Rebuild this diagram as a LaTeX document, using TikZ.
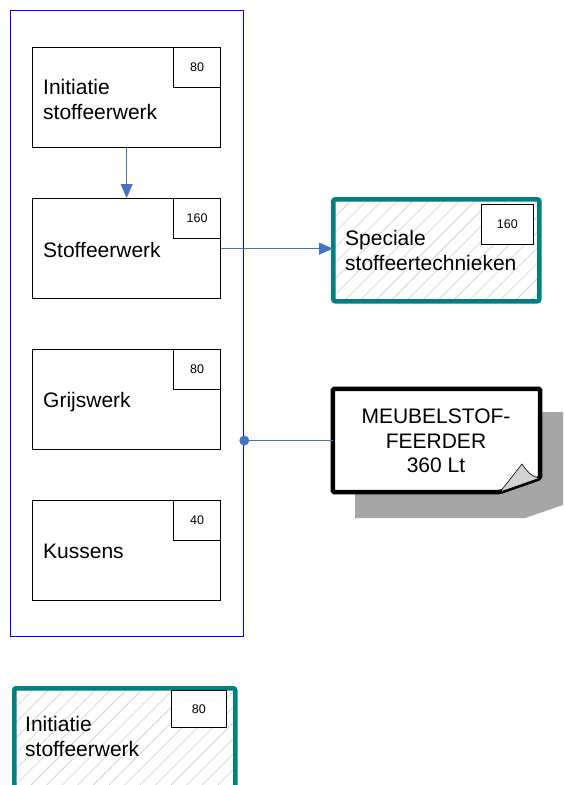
\documentclass[tikz,border=0pt]{standalone}
\usepackage{fontspec}
\setmainfont{Liberation Sans}
\usetikzlibrary{arrows.meta,patterns.meta}

\definecolor{frameblue}{RGB}{0,0,255}
\definecolor{linkblue}{RGB}{68,114,196}
\definecolor{tealedge}{RGB}{0,128,128}
\definecolor{shadowgray}{RGB}{166,166,166}

\tikzset{
  taskbox/.style={draw=black, line width=1.3pt, minimum width=188pt, minimum height=100pt, anchor=north west, inner sep=0pt},
  hoursbox/.style={draw=black, fill=white, line width=1.3pt, minimum width=47pt, minimum height=40pt, anchor=north east, inner sep=0pt, font=\fontsize{12.5}{14}\selectfont},
  tasktext/.style={anchor=west, align=left, inner sep=0pt, font=\fontsize{21}{25}\selectfont},
  extbox/.style={draw=tealedge, line width=4.5pt, rounded corners=2pt, pattern={Lines[angle=45,distance=11pt,line width=0.6pt]}, pattern color=gray!40, anchor=north west, inner sep=0pt},
  link/.style={draw=linkblue, line width=0.8pt}
}

\begin{document}
\begin{tikzpicture}[x=1pt, y=-1pt]
  \useasboundingbox (0,0) rectangle (563,785);

  % Draw the module frame
  \node (module) [draw=frameblue, line width=1.3pt, minimum width=233pt, minimum height=626pt, anchor=north west, inner sep=0pt] at (10,10) {};

  % Draw the four tasks inside the frame
  \node (initiatie) [taskbox] at (32,47) {};
  \node (initiatieuren) [hoursbox] at (initiatie.north east) {80};
  \node (initiatietxt) [tasktext] at (43,99) {Initiatie\\stoffeerwerk};

  \node (stoffeer) [taskbox] at (32,198) {};
  \node (stoffeeruren) [hoursbox] at (stoffeer.north east) {160};
  \node (stoffeertxt) [tasktext] at (43,250) {Stoffeerwerk};

  \node (grijs) [taskbox] at (32,349) {};
  \node (grijsuren) [hoursbox] at (grijs.north east) {80};
  \node (grijstxt) [tasktext] at (43,402) {Grijswerk};

  \node (kussens) [taskbox] at (32,500) {};
  \node (kussensuren) [hoursbox] at (kussens.north east) {40};
  \node (kussenstxt) [tasktext] at (43,551) {Kussens};

  % Draw the hatched outside tasks
  \node (speciaal) [extbox, minimum width=206pt, minimum height=102pt] at (333,199) {};
  \node (speciaaluren) [hoursbox, minimum width=52pt] at (534,204) {160};
  \node (speciaaltxt) [tasktext] at (345,250) {Speciale\\stoffeertechnieken};

  \node (legenda) [extbox, minimum width=221pt, minimum height=110pt] at (12,686) {};
  \node (legendauren) [hoursbox, minimum width=55pt, minimum height=37pt] at (227,690) {80};
  \node (legendatxt) [tasktext] at (25,736) {Initiatie\\stoffeerwerk};

  % Draw the note with its shadow and folded corner
  \fill[shadowgray] (355,412) -- (563,412) -- (563,505) -- (525,518) -- (355,518) -- cycle;
  \node (feerder) [minimum width=207pt, minimum height=103pt, inner sep=0pt] at (436.5,440.5) {};
  \filldraw[fill=white, draw=black, line width=4.5pt, rounded corners=1.5pt]
    (feerder.north west) -- (feerder.north east) -- (540,478) -- (500,492) -- (feerder.south west) -- cycle;
  \filldraw[fill=gray!35, draw=black, line width=0.6pt]
    (500,492) -- (522,464) .. controls (526,470) and (531,477) .. (540,478) -- cycle;
  \node (feerdertxt) [align=center, inner sep=0pt, font=\fontsize{21}{24.5}\selectfont] at (436,441) {MEUBELSTOF-\\FEERDER\\360 Lt};

  % Draw the connectors
  \draw[link, -{Triangle[length=14pt,width=12pt]}] (initiatie.south) -- (stoffeer.north);
  \draw[link, -{Triangle[length=14pt,width=12pt]}] (stoffeer.east) -- (stoffeer.east -| speciaal.west);
  \draw[link] (module.east |- feerder.west) -- (feerder.west);
  \fill[linkblue] (module.east |- feerder.west) circle (5pt);
\end{tikzpicture}
\end{document}
